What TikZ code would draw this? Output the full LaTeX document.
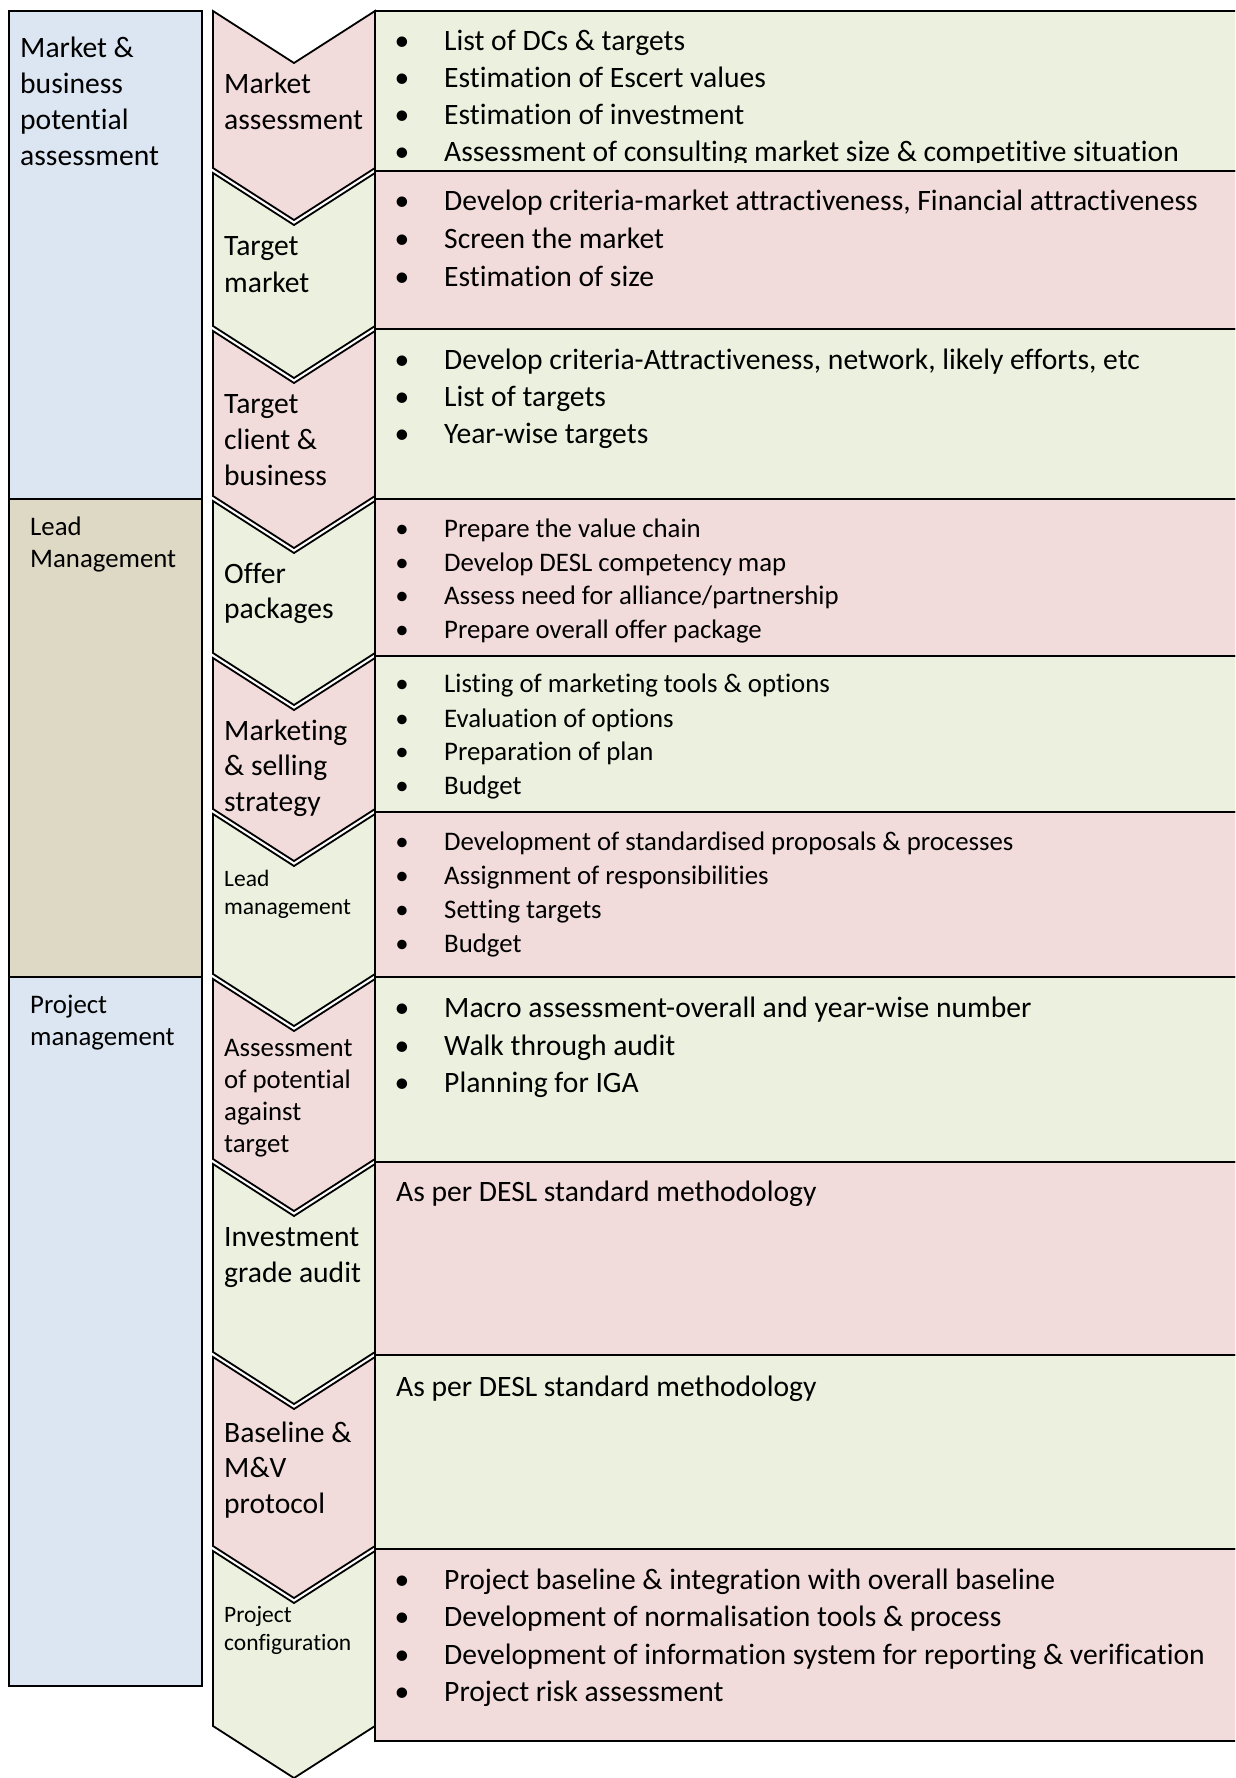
\documentclass[tikz,border=0pt]{standalone}
\usepackage{fontspec}
\setmainfont{Carlito}[Ligatures=NoCommon]
\definecolor{pinkfill}{HTML}{F2DCDB}
\definecolor{greenfill}{HTML}{EBF1DE}
\definecolor{bluefill}{HTML}{DCE6F2}
\definecolor{tanfill}{HTML}{DDD9C4}
\tikzset{
  outline/.style={draw=black, line width=1.8pt, line join=miter},
  bigtext/.style={font=\fontsize{29.6}{36}\selectfont, inner sep=0pt, anchor=base west, align=left},
  midtext/.style={font=\fontsize{26.8}{32}\selectfont, inner sep=0pt, anchor=base west, align=left},
  smalltext/.style={font=\fontsize{23.5}{28}\selectfont, inner sep=0pt, anchor=base west, align=left},
  dot/.style={inner sep=0pt, anchor=base},
}
\begin{document}
\begin{tikzpicture}[x=1pt, y=-1pt]
    \clip (0,0) rectangle (1235,1778);
    \fill[white] (0,0) rectangle (1235,1778);
    % left column: the three phases
    \filldraw[fill=bluefill, outline] (9,11) rectangle (202,499);
    \filldraw[fill=tanfill, outline] (9,499) rectangle (202,977);
    \filldraw[fill=bluefill, outline] (9,977) rectangle (202,1686);
    % chevrons, one per step
    \foreach \t/\b/\c in {11/168/pinkfill, 173/326/greenfill, 331/496/pinkfill, 501/653/greenfill, 658/809/pinkfill,
        814/974/greenfill, 979/1159/pinkfill, 1164/1352/greenfill, 1357/1546/pinkfill, 1551/1726/greenfill}
      \filldraw[fill=\c, outline] (213,\t) -- (294,\t+52) -- (375,\t) -- (375,\b) -- (294,\b+52) -- (213,\b) -- cycle;
    % activity boxes on the right
    \foreach \t/\b/\c in {11/171/greenfill, 171/329/pinkfill, 329/499/greenfill, 499/656/pinkfill, 656/812/greenfill,
        812/977/pinkfill, 977/1162/greenfill, 1162/1355/pinkfill, 1355/1549/greenfill, 1549/1741/pinkfill}
      \filldraw[fill=\c, outline] (375,\t) rectangle (1250,\b);
    % phase labels (placed at the baseline of their last line)
    \node[bigtext] (phase1) at (20,165) {Market \&\\business\\potential\\assessment};
    \node[midtext] (phase2) at (30,567) {Lead\\Management};
    \node[midtext] (phase3) at (30,1045) {Project\\management};
    % step labels
    \node[bigtext] (step1) at (224,129) {Market\\assessment};
    \node[bigtext, font=\fontsize{29.6}{37}\selectfont] (step2) at (224,292) {Target\\market};
    \node[bigtext] (step3) at (224,485) {Target\\client \&\\business};
    \node[bigtext, font=\fontsize{29.6}{35}\selectfont] (step4) at (224,618) {Offer\\packages};
    \node[bigtext, font=\fontsize{29.6}{35.5}\selectfont] (step5) at (224,811) {Marketing\\\& selling\\strategy};
    \node[smalltext] (step6) at (224,914) {Lead\\management};
    \node[midtext] (step7) at (224,1152) {Assessment\\of potential\\against\\target};
    \node[bigtext] (step8) at (224,1282) {Investment\\grade audit};
    \node[bigtext, font=\fontsize{29.6}{35.5}\selectfont] (step9) at (224,1513) {Baseline \&\\M\&V\\protocol};
    \node[smalltext] (step10) at (224,1650) {Project\\configuration};
    % activities, the last line of the first box is cut by its edge
    \begin{scope}
      \clip (375,11) rectangle (1235,162);
      \foreach \y/\txt [count=\i] in {50/List of DCs \& targets, 87/Estimation of Escert values, 124/Estimation of investment,
          161/Assessment of consulting market size \& competitive situation} {
        \node[dot, font=\fontsize{29.6}{36}\selectfont] (a1b\i) at (402,\y) {•};
        \node[bigtext] (a1t\i) at (444,\y) {\txt};
      }
    \end{scope}
    \foreach \y/\txt [count=\i] in {{210/Develop criteria-market attractiveness, Financial attractiveness}, 248/Screen the market,
        286/Estimation of size} {
      \node[dot, font=\fontsize{29.6}{36}\selectfont] (a2b\i) at (402,\y) {•};
      \node[bigtext] (a2t\i) at (444,\y) {\txt};
    }
    \foreach \y/\txt [count=\i] in {{369/Develop criteria-Attractiveness, network, likely efforts, etc}, 406/List of targets,
        443/Year-wise targets} {
      \node[dot, font=\fontsize{29.6}{36}\selectfont] (a3b\i) at (402,\y) {•};
      \node[bigtext] (a3t\i) at (444,\y) {\txt};
    }
    \foreach \y/\txt [count=\i] in {537/Prepare the value chain, 571/Develop DESL competency map,
        604/{Assess need for alliance/partnership}, 638/Prepare overall offer package} {
      \node[dot, font=\fontsize{26.8}{32}\selectfont] (a4b\i) at (402,\y) {•};
      \node[midtext] (a4t\i) at (444,\y) {\txt};
    }
    \foreach \y/\txt [count=\i] in {692/Listing of marketing tools \& options, 727/Evaluation of options,
        760/Preparation of plan, 794/Budget} {
      \node[dot, font=\fontsize{26.8}{32}\selectfont] (a5b\i) at (402,\y) {•};
      \node[midtext] (a5t\i) at (444,\y) {\txt};
    }
    \foreach \y/\txt [count=\i] in {850/Development of standardised proposals \& processes, 884/Assignment of responsibilities,
        918/Setting targets, 952/Budget} {
      \node[dot, font=\fontsize{26.8}{32}\selectfont] (a6b\i) at (402,\y) {•};
      \node[midtext] (a6t\i) at (444,\y) {\txt};
    }
    \foreach \y/\txt [count=\i] in {1017/Macro assessment-overall and year-wise number, 1055/Walk through audit,
        1092/Planning for IGA} {
      \node[dot, font=\fontsize{29.6}{36}\selectfont] (a7b\i) at (402,\y) {•};
      \node[bigtext] (a7t\i) at (444,\y) {\txt};
    }
    \node[bigtext] (a8) at (396,1201) {As per DESL standard methodology};
    \node[bigtext] (a9) at (396,1396) {As per DESL standard methodology};
    \foreach \y/\txt [count=\i] in {1589/Project baseline \& integration with overall baseline,
        1626/Development of normalisation tools \& process,
        1664/Development of information system for reporting \& verification, 1701/Project risk assessment} {
      \node[dot, font=\fontsize{29.6}{36}\selectfont] (a10b\i) at (402,\y) {•};
      \node[bigtext] (a10t\i) at (444,\y) {\txt};
    }
\end{tikzpicture}
\end{document}
